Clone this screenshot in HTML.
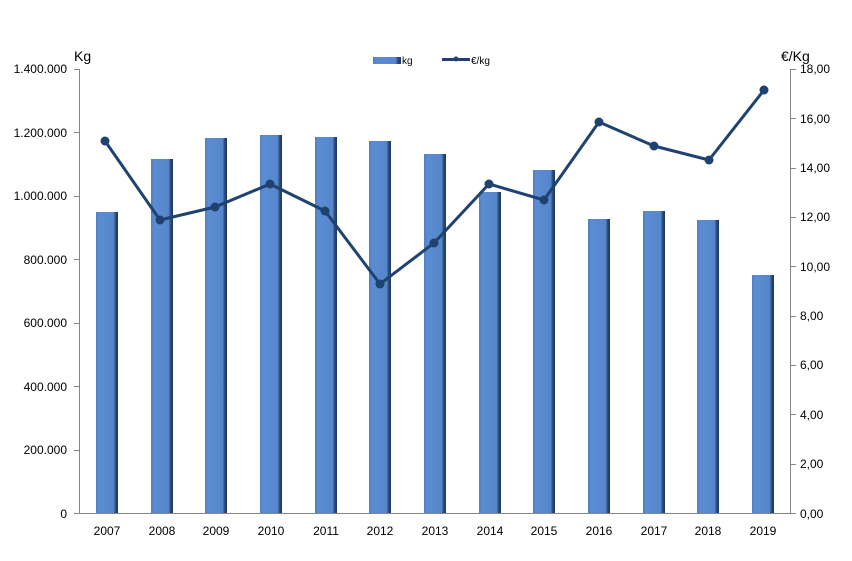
<!DOCTYPE html>
<html><head><meta charset="utf-8"><style>
body{margin:0;background:#fff}
svg{display:block;font-family:"Liberation Sans",sans-serif}
</style></head><body>
<svg width="852" height="561" viewBox="0 0 852 561">
<defs>
<linearGradient id="g" x1="0" x2="1" y1="0" y2="0">
<stop offset="0" stop-color="#4f7fc4"/><stop offset="0.15" stop-color="#5b8dd3"/><stop offset="0.8" stop-color="#5686cc"/><stop offset="0.88" stop-color="#2f4f7f"/><stop offset="1" stop-color="#1f3556"/>
</linearGradient>
</defs>
<g stroke="#868686" stroke-width="1" fill="none">
<line x1="79.5" y1="69" x2="79.5" y2="513"/>
<line x1="790.5" y1="69" x2="790.5" y2="513"/>
<line x1="79" y1="513.5" x2="791" y2="513.5"/>
<path d="M74 69.5h5M74 132.5h5M74 196.5h5M74 259.5h5M74 323.5h5M74 386.5h5M74 450.5h5M74 513.5h5"/>
<path d="M791 69.5h5M791 118.5h5M791 168.5h5M791 217.5h5M791 266.5h5M791 316.5h5M791 365.5h5M791 414.5h5M791 464.5h5M791 513.5h5"/>
</g>
<g font-size="12" fill="#000" text-anchor="end">
<text x="67" y="73">1.400.000</text><text x="67" y="137">1.200.000</text><text x="67" y="200">1.000.000</text><text x="67" y="264">800.000</text><text x="67" y="327">600.000</text><text x="67" y="391">400.000</text><text x="67" y="454">200.000</text><text x="67" y="518">0</text>
</g>
<g font-size="12" fill="#000" text-anchor="start">
<text x="800" y="73">18,00</text><text x="800" y="123">16,00</text><text x="800" y="172">14,00</text><text x="800" y="221">12,00</text><text x="800" y="271">10,00</text><text x="800" y="320">8,00</text><text x="800" y="369">6,00</text><text x="800" y="419">4,00</text><text x="800" y="468">2,00</text><text x="800" y="518">0,00</text>
</g>
<text x="74" y="61" font-size="14">Kg</text>
<text x="781" y="61" font-size="14">€/Kg</text>
<g fill="url(#g)">
<rect x="96" y="212" width="22" height="301"/>
<rect x="151" y="159" width="22" height="354"/>
<rect x="205" y="138" width="22" height="375"/>
<rect x="260" y="135" width="22" height="378"/>
<rect x="315" y="137" width="22" height="376"/>
<rect x="369" y="141" width="22" height="372"/>
<rect x="424" y="154" width="22" height="359"/>
<rect x="479" y="192" width="22" height="321"/>
<rect x="533" y="170" width="22" height="343"/>
<rect x="588" y="219" width="22" height="294"/>
<rect x="643" y="211" width="22" height="302"/>
<rect x="697" y="220" width="22" height="293"/>
<rect x="752" y="275" width="22" height="238"/>
</g>
<polyline fill="none" stroke="#1f4270" stroke-width="3" stroke-linejoin="round" points="105,141 160,220 215,207 270,184 325,211 380,284 434,243 489,184 544,200 599,122 654,146 709,160 764,90"/>
<g fill="#1f4270">
<circle cx="105" cy="141" r="4.5"/><circle cx="160" cy="220" r="4.5"/><circle cx="215" cy="207" r="4.5"/><circle cx="270" cy="184" r="4.5"/><circle cx="325" cy="211" r="4.5"/><circle cx="380" cy="284" r="4.5"/><circle cx="434" cy="243" r="4.5"/><circle cx="489" cy="184" r="4.5"/><circle cx="544" cy="200" r="4.5"/><circle cx="599" cy="122" r="4.5"/><circle cx="654" cy="146" r="4.5"/><circle cx="709" cy="160" r="4.5"/><circle cx="764" cy="90" r="4.5"/>
</g>
<g font-size="12" fill="#000" text-anchor="middle">
<text x="107" y="535">2007</text><text x="162" y="535">2008</text><text x="216" y="535">2009</text><text x="271" y="535">2010</text><text x="326" y="535">2011</text><text x="380" y="535">2012</text><text x="435" y="535">2013</text><text x="490" y="535">2014</text><text x="544" y="535">2015</text><text x="599" y="535">2016</text><text x="654" y="535">2017</text><text x="708" y="535">2018</text><text x="763" y="535">2019</text>
</g>
<rect x="373" y="57" width="28" height="7" fill="url(#g)"/>
<text x="402" y="64" font-size="10">kg</text>
<line x1="442" y1="59.5" x2="470" y2="59.5" stroke="#1f4270" stroke-width="3"/>
<circle cx="456" cy="59" r="2.5" fill="#1f4270"/>
<text x="471" y="64" font-size="10">€/kg</text>
</svg>
</body></html>
